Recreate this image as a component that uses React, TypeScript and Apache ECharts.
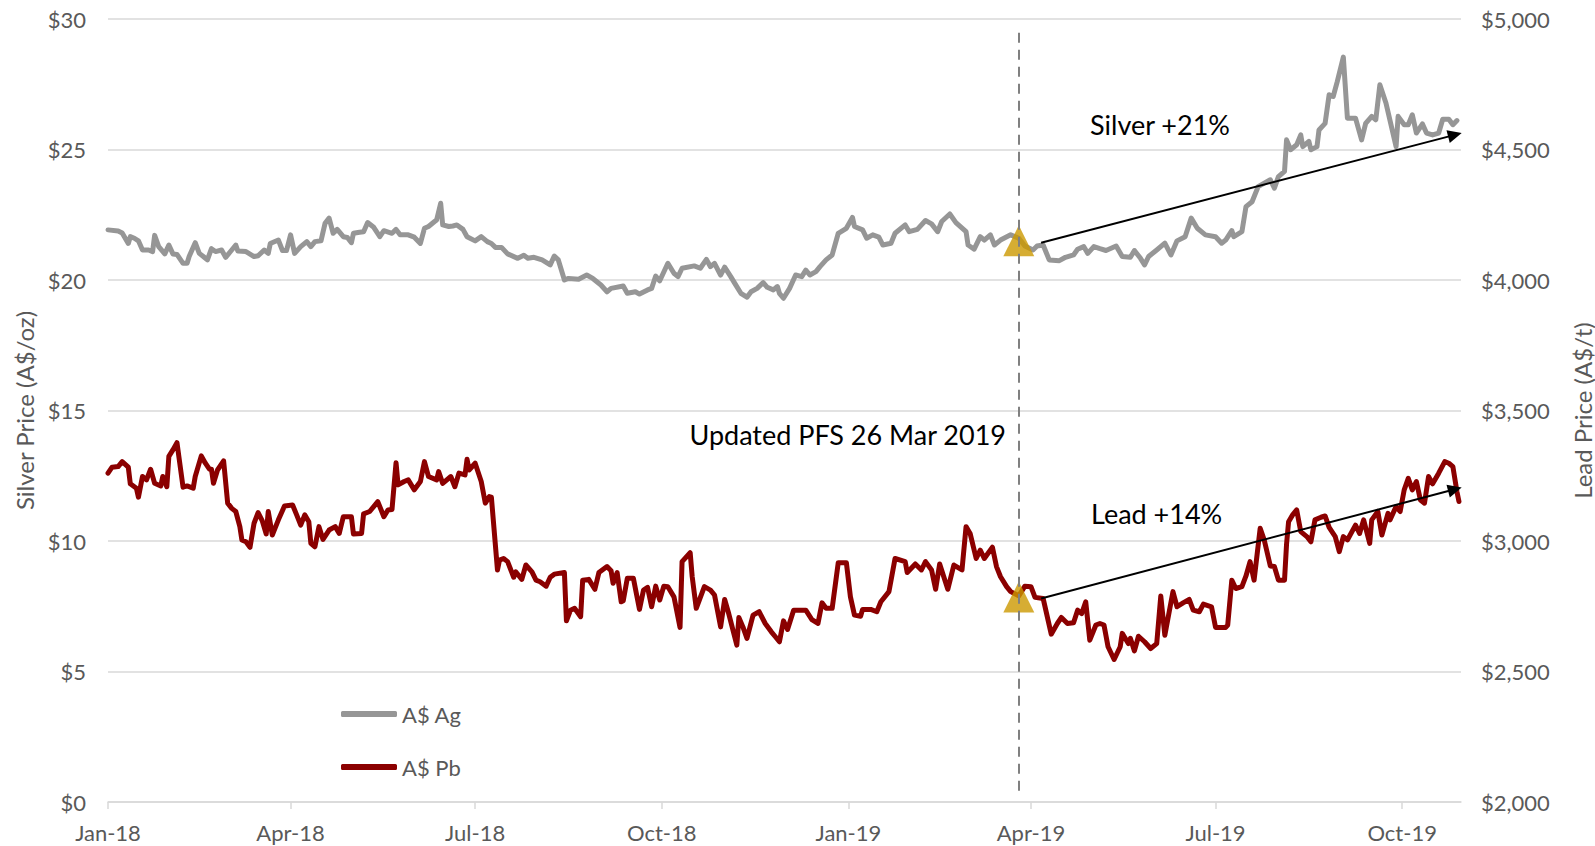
import React, { useEffect, useRef } from "react";
import * as echarts from "echarts";

// Dates are stored as day offsets from START (1 Jan 2018)
const START: [number, number, number] = [2018, 0, 1];
const END_DAY = 667; // 30 Oct 2019

const QUARTERS: [number, number][] = [
  [2018, 0], [2018, 3], [2018, 6], [2018, 9],
  [2019, 0], [2019, 3], [2019, 6], [2019, 9],
];
const MONTHS = ["Jan", "Feb", "Mar", "Apr", "May", "Jun", "Jul", "Aug", "Sep", "Oct", "Nov", "Dec"];

// A$ silver price (A$/oz): [day, price]
const silver: [number, number][] = [
  [0, 21.92], [5, 21.88], [7, 21.8], [10, 21.4], [11, 21.66], [13, 21.6], [15, 21.5], [17, 21.15],
  [20, 21.15], [22, 21.09], [23, 21.71], [25, 21.28], [28, 21.0], [30, 21.34], [32, 21.0], [34, 20.98],
  [37, 20.64], [39, 20.64], [40, 20.9], [43, 21.43], [45, 21.02], [47, 20.9], [49, 20.77], [51, 21.2],
  [53, 21.09], [56, 21.15], [58, 20.87], [61, 21.15], [63, 21.34], [64, 21.11], [68, 21.09], [72, 20.9],
  [74, 20.93], [77, 21.15], [79, 21.02], [80, 21.4], [84, 21.53], [86, 21.13], [88, 21.13], [90, 21.73],
  [92, 21.02], [95, 21.28], [98, 21.47], [100, 21.28], [102, 21.47], [105, 21.5], [107, 22.17], [109, 22.37],
  [111, 21.79], [113, 21.94], [116, 21.66], [118, 21.63], [120, 21.43], [121, 21.79], [124, 21.83], [126, 21.85],
  [128, 22.2], [131, 22.02], [134, 21.66], [136, 21.89], [140, 21.79], [142, 21.94], [144, 21.73], [148, 21.73],
  [151, 21.64], [154, 21.4], [156, 21.98], [158, 22.05], [161, 22.24], [162, 22.3], [164, 22.94], [165, 22.11],
  [168, 22.05], [170, 22.07], [172, 22.11], [175, 21.94], [177, 21.66], [181, 21.5], [184, 21.66], [187, 21.47],
  [189, 21.4], [191, 21.25], [194, 21.25], [197, 21.0], [202, 20.83], [205, 20.95], [207, 20.83], [210, 20.87],
  [214, 20.77], [218, 20.58], [220, 20.92], [222, 20.77], [225, 20.0], [227, 20.06], [232, 20.03], [236, 20.19],
  [239, 20.06], [243, 19.81], [246, 19.55], [248, 19.68], [254, 19.77], [256, 19.49], [260, 19.55], [262, 19.46],
  [266, 19.62], [268, 19.68], [270, 20.15], [272, 19.97], [276, 20.64], [279, 20.26], [281, 20.13], [283, 20.45],
  [289, 20.54], [292, 20.45], [295, 20.79], [297, 20.51], [299, 20.64], [302, 20.19], [304, 20.49], [307, 20.13],
  [309, 19.87], [312, 19.49], [315, 19.34], [317, 19.55], [320, 19.68], [323, 19.9], [325, 19.72], [328, 19.62],
  [330, 19.75], [331, 19.49], [333, 19.3], [336, 19.68], [339, 20.19], [342, 20.13], [344, 20.38], [346, 20.19],
  [349, 20.32], [351, 20.51], [354, 20.77], [357, 20.96], [360, 21.79], [364, 21.98], [367, 22.4], [368, 22.05],
  [372, 21.92], [374, 21.6], [377, 21.73], [380, 21.64], [382, 21.34], [386, 21.41], [388, 21.79], [393, 22.11],
  [395, 21.85], [399, 21.94], [403, 22.28], [406, 22.15], [409, 21.85], [411, 22.24], [415, 22.53], [418, 22.2],
  [423, 21.85], [424, 21.34], [427, 21.18], [430, 21.66], [432, 21.53], [435, 21.73], [437, 21.34], [440, 21.53],
  [445, 21.73], [449, 21.6], [452, 21.3], [456, 21.15], [458, 21.3], [461, 21.34], [464, 20.77], [469, 20.74],
  [472, 20.87], [476, 20.96], [478, 21.18], [481, 21.28], [483, 21.02], [486, 21.28], [489, 21.2], [492, 21.13],
  [497, 21.3], [500, 20.9], [504, 20.87], [506, 21.13], [509, 20.83], [511, 20.58], [513, 20.9], [517, 21.15],
  [521, 21.41], [524, 20.96], [527, 21.5], [531, 21.66], [534, 22.37], [537, 21.98], [541, 21.73], [546, 21.66],
  [549, 21.41], [551, 21.53], [554, 21.89], [555, 21.66], [559, 21.85], [561, 22.81], [564, 23.0], [567, 23.58],
  [570, 23.71], [573, 23.84], [575, 23.52], [577, 23.96], [580, 24.16], [581, 25.37], [583, 24.99], [586, 25.18],
  [588, 25.56], [589, 25.11], [592, 25.31], [593, 24.99], [596, 25.11], [597, 25.75], [600, 26.0], [602, 27.1],
  [604, 27.03], [606, 27.6], [609, 28.54], [611, 26.2], [615, 26.2], [618, 25.37], [620, 26.0], [623, 26.27],
  [625, 26.14], [627, 27.48], [630, 26.78], [635, 25.11], [636, 26.27], [639, 25.95], [641, 25.95], [643, 26.33],
  [645, 25.63], [648, 25.98], [650, 25.63], [653, 25.56], [656, 25.63], [658, 26.16], [661, 26.16], [663, 25.95],
  [665, 26.11],
];

// A$ lead price (A$/t): [day, price]
const lead: [number, number][] = [
  [0, 3260], [2, 3283], [5, 3285], [7, 3304], [10, 3283], [11, 3219], [14, 3202], [15, 3168], [17, 3247],
  [19, 3234], [21, 3275], [23, 3221], [26, 3211], [27, 3247], [29, 3208], [30, 3324], [32, 3349], [34, 3377],
  [37, 3206], [39, 3211], [42, 3202], [43, 3247], [46, 3326], [48, 3298], [50, 3275], [51, 3275], [52, 3221],
  [54, 3272], [57, 3307], [59, 3145], [61, 3125], [63, 3113], [65, 3055], [66, 3004], [68, 2997], [70, 2976],
  [72, 3068], [74, 3109], [76, 3078], [78, 3027], [79, 3113], [81, 3023], [84, 3081], [87, 3134], [91, 3138],
  [93, 3100], [95, 3061], [97, 3100], [99, 3074], [100, 2991], [102, 2978], [104, 3055], [106, 3006], [109, 3042],
  [112, 3055], [114, 3029], [116, 3093], [120, 3093], [121, 3027], [125, 3029], [126, 3104], [129, 3113],
  [133, 3151], [136, 3093], [138, 3119], [140, 3121], [142, 3300], [143, 3215], [146, 3228], [148, 3234],
  [151, 3196], [154, 3228], [156, 3304], [158, 3247], [162, 3234], [163, 3266], [165, 3221], [169, 3247],
  [171, 3208], [173, 3260], [176, 3253], [177, 3313], [178, 3272], [181, 3298], [184, 3228], [186, 3145],
  [188, 3170], [189, 3168], [192, 2889], [193, 2927], [195, 2933], [197, 2921], [200, 2861], [201, 2882],
  [204, 2853], [206, 2908], [209, 2882], [211, 2850], [213, 2844], [216, 2827], [218, 2861], [220, 2873],
  [225, 2879], [226, 2694], [228, 2735], [230, 2742], [233, 2710], [234, 2850], [237, 2853], [240, 2815],
  [242, 2879], [246, 2902], [248, 2886], [249, 2838], [251, 2879], [253, 2767], [254, 2771], [256, 2857],
  [259, 2857], [262, 2738], [264, 2812], [266, 2822], [268, 2748], [270, 2827], [272, 2774], [274, 2827],
  [276, 2825], [279, 2786], [282, 2669], [283, 2921], [287, 2955], [288, 2863], [290, 2742], [294, 2825],
  [297, 2812], [299, 2793], [302, 2671], [304, 2776], [306, 2722], [310, 2601], [311, 2707], [313, 2671],
  [315, 2627], [318, 2716], [321, 2729], [324, 2684], [327, 2652], [329, 2633], [331, 2614], [333, 2694],
  [335, 2661], [338, 2735], [342, 2735], [344, 2735], [347, 2699], [350, 2684], [352, 2763], [354, 2742],
  [357, 2742], [360, 2917], [364, 2917], [366, 2786], [368, 2716], [371, 2712], [372, 2738], [376, 2738],
  [379, 2729], [381, 2767], [385, 2806], [388, 2933], [393, 2921], [394, 2879], [398, 2912], [401, 2889],
  [403, 2921], [406, 2889], [408, 2815], [410, 2912], [414, 2815], [417, 2908], [421, 2889], [423, 3055],
  [425, 3029], [428, 2933], [430, 2965], [432, 2933], [436, 2976], [438, 2902], [440, 2863], [443, 2825],
  [445, 2806], [449, 2790], [452, 2827], [455, 2825], [457, 2784], [461, 2780], [465, 2643], [468, 2684],
  [470, 2707], [473, 2684], [476, 2687], [478, 2735], [480, 2722], [482, 2767], [484, 2620], [487, 2678],
  [489, 2684], [491, 2678], [493, 2595], [496, 2546], [499, 2595], [500, 2646], [503, 2607], [504, 2627],
  [506, 2579], [508, 2635], [511, 2614], [514, 2588], [517, 2607], [519, 2789], [521, 2639], [525, 2806],
  [527, 2748], [530, 2763], [533, 2776], [535, 2735], [538, 2729], [540, 2758], [544, 2748], [546, 2669],
  [551, 2669], [552, 2678], [554, 2850], [556, 2818], [559, 2825], [561, 2866], [563, 2921], [565, 2850],
  [568, 3049], [570, 3004], [573, 2904], [575, 2902], [577, 2850], [580, 2850], [581, 2988], [582, 3074],
  [584, 3100], [586, 3119], [588, 3036], [591, 3017], [593, 2997], [595, 3081], [598, 3091], [600, 3096],
  [602, 3052], [605, 3017], [607, 2959], [609, 3017], [611, 3004], [615, 3061], [617, 3029], [619, 3081],
  [622, 2991], [623, 3081], [626, 3113], [628, 3023], [631, 3106], [632, 3081], [635, 3132], [637, 3113],
  [639, 3196], [641, 3240], [643, 3196], [645, 3228], [647, 3157], [649, 3145], [651, 3247], [653, 3219],
  [656, 3260], [659, 3304], [661, 3298], [663, 3285], [665, 3189], [666, 3151],
];

// Updated PFS date (26 Mar 2019) and prices at that date
const PFS_DAY = 449;
const PFS_SILVER = 21.5;
const PFS_LEAD = 2785;

// Trend arrows: [day, value] start and end
const silverArrow: [number, number][] = [[460, 21.43], [664, 25.56]];
const leadArrow: [number, number][] = [[460, 2780], [664, 3198]];
const dashedLineRange: [number, number] = [29.47, 0.18]; // silver-axis values

const FONT = "Lato, 'Open Sans', sans-serif";
const AXIS_GREY = "#595959";
const GRID_GREY = "#D9D9D9";

const DAY_MS = 86400000;
const base = new Date(START[0], START[1], START[2]).getTime();
const dayOf = (y: number, m: number) => Math.round((new Date(y, m, 1).getTime() - base) / DAY_MS);

export default function App() {
  const ref = useRef<HTMLDivElement>(null);

  useEffect(() => {
    if (!ref.current) return;
    const chart = echarts.init(ref.current, undefined, { renderer: "svg" });
    const quarterTicks = QUARTERS.map(([y, m]) => dayOf(y, m));

    chart.setOption({
      animation: false,
      backgroundColor: "#ffffff",
      textStyle: { fontFamily: FONT },
      grid: { left: 108, right: 134, top: 19, bottom: 44, containLabel: false, outerBoundsMode: "none" },
      legend: {
        data: ["A$ Ag", "A$ Pb"],
        orient: "vertical",
        left: 336,
        top: 697,
        itemWidth: 56,
        itemHeight: 6,
        itemGap: 29,
        icon: "roundRect",
        selectedMode: false,
        textStyle: { fontSize: 22, color: AXIS_GREY, fontFamily: FONT, lineHeight: 24 },
      },
      xAxis: {
        type: "value",
        min: 0,
        max: END_DAY,
        axisLine: { show: true, lineStyle: { color: GRID_GREY, width: 1.5 } },
        axisTick: { show: true, length: 7, customValues: quarterTicks, lineStyle: { color: GRID_GREY, width: 1.5 } },
        axisLabel: {
          customValues: quarterTicks,
          margin: 19,
          fontSize: 22,
          color: AXIS_GREY,
          fontFamily: FONT,
          formatter: (v: number) => {
            const d = new Date(base + v * DAY_MS + 12 * 3600000);
            return MONTHS[d.getMonth()] + "-" + String(d.getFullYear()).slice(2);
          },
        },
        splitLine: { show: false },
      },
      yAxis: [
        {
          type: "value",
          min: 0,
          max: 30,
          interval: 5,
          name: "Silver Price (A$/oz)",
          nameLocation: "middle",
          nameRotate: 90,
          nameGap: 66,
          nameTextStyle: { fontSize: 24, color: AXIS_GREY, fontFamily: FONT },
          axisLine: { show: false },
          axisTick: { show: false },
          axisLabel: { margin: 22, fontSize: 22, color: AXIS_GREY, fontFamily: FONT, formatter: (v: number) => "$" + v },
          splitLine: { show: true, lineStyle: { color: GRID_GREY, width: 1.5 } },
        },
        {
          type: "value",
          min: 2000,
          max: 5000,
          interval: 500,
          position: "right",
          name: "Lead Price (A$/t)",
          nameLocation: "middle",
          nameRotate: 90,
          nameGap: 109,
          nameTextStyle: { fontSize: 24, color: AXIS_GREY, fontFamily: FONT },
          axisLine: { show: false },
          axisTick: { show: false },
          axisLabel: {
            margin: 20,
            fontSize: 22,
            color: AXIS_GREY,
            fontFamily: FONT,
            formatter: (v: number) => "$" + v.toLocaleString("en-US"),
          },
          splitLine: { show: false },
        },
      ],
      series: [
        {
          name: "A$ Ag",
          type: "line",
          yAxisIndex: 0,
          data: silver,
          symbol: "none",
          color: "#969696",
          lineStyle: { color: "#969696", width: 5, join: "round", cap: "round" },
          z: 2,
          silent: true,
          markLine: {
            silent: true,
            symbol: ["none", "triangle"],
            symbolSize: [13, 14],
            label: { show: false },
            lineStyle: { color: "#000000", width: 2, type: "solid" },
            data: [[{ coord: silverArrow[0] }, { coord: silverArrow[1] }]],
          },
        },
        {
          name: "A$ Pb",
          type: "line",
          yAxisIndex: 1,
          data: lead,
          symbol: "none",
          color: "#8B0000",
          lineStyle: { color: "#8B0000", width: 5, join: "round", cap: "round" },
          z: 2,
          silent: true,
          markLine: {
            silent: true,
            symbol: ["none", "triangle"],
            symbolSize: [13, 14],
            label: { show: false },
            lineStyle: { color: "#000000", width: 2, type: "solid" },
            data: [[{ coord: leadArrow[0] }, { coord: leadArrow[1] }]],
          },
        },
        {
          name: "PFS Ag",
          type: "scatter",
          yAxisIndex: 0,
          data: [[PFS_DAY, PFS_SILVER]],
          symbol: "triangle",
          symbolSize: [31, 31],
          itemStyle: { color: "#CC9900" },
          z: 3,
          silent: true,
          markLine: {
            silent: true,
            symbol: ["none", "none"],
            label: { show: false },
            lineStyle: { color: "#808080", width: 2, type: [10, 7] },
            data: [[{ coord: [PFS_DAY, dashedLineRange[0]] }, { coord: [PFS_DAY, dashedLineRange[1]] }]],
          },
        },
        {
          name: "PFS Pb",
          type: "scatter",
          yAxisIndex: 1,
          data: [[PFS_DAY, PFS_LEAD]],
          symbol: "triangle",
          symbolSize: [31, 31],
          itemStyle: { color: "#CC9900" },
          z: 3,
          silent: true,
        },
      ],
      graphic: [
        {
          type: "text",
          x: 1090,
          y: 124,
          style: { text: "Silver +21%", fontSize: 27, fontFamily: FONT, fill: "#000000", align: "left", verticalAlign: "middle" },
        },
        {
          type: "text",
          x: 1091,
          y: 513,
          style: { text: "Lead +14%", fontSize: 27, fontFamily: FONT, fill: "#000000", align: "left", verticalAlign: "middle" },
        },
        {
          type: "text",
          x: 1006,
          y: 434,
          style: { text: "Updated PFS 26 Mar 2019", fontSize: 27, fontFamily: FONT, fill: "#000000", align: "right", verticalAlign: "middle" },
        },
      ],
    });

    return () => chart.dispose();
  }, []);

  return <div ref={ref} style={{ position: "fixed", left: 0, top: 0, width: 1595, height: 846 }} />;
}
